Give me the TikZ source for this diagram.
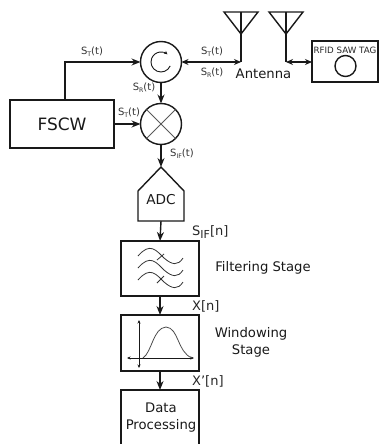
\documentclass[tikz,border=0pt]{standalone}
\usepackage{fontspec}
\setmainfont{DejaVu Sans}
\usetikzlibrary{arrows.meta,calc}
\newcommand{\sgn}[2]{S\raisebox{-0.3ex}{\scalebox{0.62}{#1}}#2}
\tikzset{
  x=1pt,y=-1pt,
  wire/.style={line width=1.4pt,draw=black!90},
  arr/.style={wire,-{Stealth[length=9pt,width=7pt]}},
  dbl/.style={wire,{Stealth[length=7pt,width=6pt]}-{Stealth[length=7pt,width=6pt]}},
  blockbox/.style={draw=black!90,line width=1.4pt,rectangle,inner sep=0pt,outer sep=0pt,anchor=north west},
  disc/.style={draw=black!90,line width=1.4pt,circle,inner sep=0pt,outer sep=0pt,minimum size=41pt},
  thin gray/.style={line width=0.8pt,draw=black!65},
  curve/.style={line width=0.8pt,draw=black!80},
  lbl/.style={inner sep=0pt,text=black!80,font=\fontsize{10}{12}\selectfont},
  txt/.style={inner sep=0pt,text=black!90,font=\fontsize{13.2}{17}\selectfont,align=center},
  sig/.style={inner sep=0pt,anchor=west,text=black!85,font=\fontsize{13}{15}\selectfont}
}
\begin{document}
\begin{tikzpicture}
\useasboundingbox (0,0) rectangle (378,444);
\node[blockbox,minimum width=104pt,minimum height=48pt] (fscw) at (10,100) {};
\node[txt,font=\fontsize{17}{20}\selectfont] at (fscw.center) {FSCW};
\node[disc] (circ) at (161,62) {};
\node[disc] (mix) at (161,124) {};
\draw[thin gray] (mix.45) -- (mix.225) (mix.135) -- (mix.315);
\draw[line width=0.9pt,black!90,-{Stealth[length=3.5pt,width=3.5pt]}] ($(circ)+(9.2,3.9)$) arc[start angle=-23,end angle=-310,radius=10pt];
% ADC
\coordinate (adctop) at (161,167);
\coordinate (adcbot) at (161,221);
\draw[wire,line join=miter] (138,191) -- (adctop) -- (184,191) -- (184,221) -- (138,221) -- cycle;
\node[txt,font=\fontsize{13.6}{16}\selectfont] (adc) at (161,200) {ADC};
% stages
\node[blockbox,minimum width=78pt,minimum height=55pt] (filt) at (121,241) {};
\node[blockbox,minimum width=78pt,minimum height=56pt] (wind) at (121,315) {};
\coordinate (datatop) at (160,390);
\draw[wire] (121,444) -- (121,390) -- (199,390) -- (199,444);
\node[txt] (data) at (161,417.5) {Data\\Processing};
% connectors
\coordinate (bend) at (65,62);
\draw[arr,line join=miter] (fscw.north -| bend) -- (bend) -- (circ.west);
\draw[arr] (fscw.east) -- (mix.west);
\draw[arr] (circ.south) -- (mix.north);
\draw[arr] (mix.south) -- (adctop);
\draw[arr] (adcbot) -- (filt.north);
\draw[arr] (filt.south) -- (wind.north);
\draw[arr] (wind.south) -- (datatop);
% antennas
\coordinate (a1) at (241,62);
\coordinate (a2) at (286,62);
\draw[wire,line join=miter] (224,12) -- (258,12) -- (241,34) -- cycle;
\draw[wire] (241,12) -- (a1);
\draw[wire,line join=miter] (269,12) -- (303,12) -- (286,34) -- cycle;
\draw[wire] (286,12) -- (a2);
\draw[dbl] (circ.east) -- (a1);
\node[blockbox,minimum width=66pt,minimum height=41pt] (tag) at (312,41) {};
\draw[dbl] (a2) -- (tag.west |- a2);
\node[inner sep=0pt,font=\fontsize{8.7}{10}\selectfont,text=black!85] at (345,50) {RFID SAW TAG};
\draw[wire] (345.5,66) circle[radius=10.5];
\node[txt] at (263.5,74) {Antenna};
% signal labels
\node[lbl] at (92,52) {\sgn{T}{(t)}};
\node[lbl] at (212,52) {\sgn{T}{(t)}};
\node[lbl] at (212,73) {\sgn{R}{(t)}};
\node[lbl] at (144,88) {\sgn{R}{(t)}};
\node[lbl] at (129,112.5) {\sgn{T}{(t)}};
\node[lbl,anchor=west] at (170,154) {\sgn{IF}{(t)}};
\node[sig] at (192,232) {S\raisebox{-0.3ex}{\fontsize{11}{12}\selectfont IF}[n]};
\node[sig] at (192,306) {X[n]};
\node[sig] at (192,381) {X'[n]};
\node[txt] at (263,268) {Filtering Stage};
\node[txt] at (251,342.5) {Windowing\\Stage};
% filter symbol
\foreach \dy in {0,12,24}
  \draw[curve] (138,{256+\dy}) .. controls (150,{242+\dy}) and (156,{250+\dy}) .. (164,{258+\dy}) .. controls (172,{265+\dy}) and (178,{266+\dy}) .. (183,{258+\dy});
\draw[curve] (157,260) -- (164,254);
\draw[curve] (157,283) -- (164,276);
% window symbol
\draw[line width=0.7pt,black!90,{Stealth[length=3.5pt,width=3pt]}-{Stealth[length=3.5pt,width=3pt]}] (139,320) -- (139,368);
\draw[line width=0.7pt,black!90,{Stealth[length=3.5pt,width=3pt]}-{Stealth[length=3.5pt,width=3pt]}] (127,358) -- (194,358);
\draw[curve,black!70] (143,358) .. controls (152,352) and (153,328) .. (166,327) .. controls (179,328) and (177,352) .. (192,358);
\end{tikzpicture}
\end{document}
